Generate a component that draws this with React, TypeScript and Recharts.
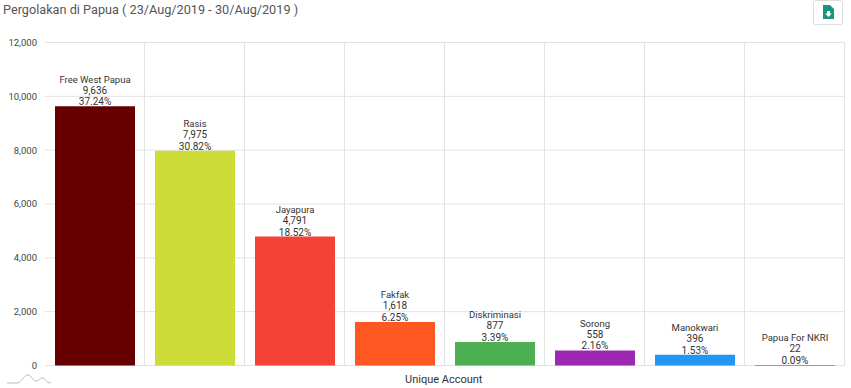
import { Bar, BarChart, CartesianGrid, Cell, LabelList, XAxis, YAxis } from 'recharts'

const categories = ['Free West Papua', 'Rasis', 'Jayapura', 'Fakfak', 'Diskriminasi', 'Sorong', 'Manokwari', 'Papua For NKRI']
const accounts = [9636, 7975, 4791, 1618, 877, 558, 396, 22]
const shares = ['37.24%', '30.82%', '18.52%', '6.25%', '3.39%', '2.16%', '1.53%', '0.09%']
const colors = ['#660000', '#cddc39', '#f44336', '#ff5722', '#4caf50', '#9c27b0', '#2196f3', '#455a64']
const yTicks = [0, 2000, 4000, 6000, 8000, 10000, 12000]

const data = categories.map((name, i) => ({ name, value: accounts[i], share: shares[i] }))

const fontFamily = 'Roboto, sans-serif'

function BarLabel(props: any) {
  const { x, y, width, index } = props
  const cx = x + width / 2
  return (
    <text textAnchor="middle" fontSize={9.5} fontFamily={fontFamily} fill="#333">
      <tspan x={cx} y={y - 23.5}>{categories[index]}</tspan>
      <tspan x={cx} y={y - 12.5} fontSize={10}>{accounts[index].toLocaleString('en-US')}</tspan>
      <tspan x={cx} y={y - 1} fontSize={10}>{shares[index]}</tspan>
    </text>
  )
}

export default function App() {
  return (
    <div style={{ position: 'absolute', left: 0, top: 0, width: 851, height: 388, overflow: 'hidden', background: '#fff', fontFamily }}>
      <div style={{ position: 'absolute', left: 3, top: 2, fontSize: 12.7, color: '#555', whiteSpace: 'nowrap' }}>
        Pergolakan di Papua ( 23/Aug/2019 - 30/Aug/2019 )
      </div>
      <div style={{ position: 'absolute', left: 813, top: 0, width: 30, height: 25, boxSizing: 'border-box', border: '1px solid #ddd', borderRadius: 3, background: '#fff' }}>
        <svg width={28} height={23} style={{ display: 'block' }}>
          <path d="M9 4 H16 L20 8 V18 H9 Z" fill="#16967f" />
          <path d="M13 10 H16 V12.5 H17.8 L14.5 16 L11.2 12.5 H13 Z" fill="#fff" />
        </svg>
      </div>
      <BarChart
        width={851}
        height={388}
        data={data}
        margin={{ top: 42.5, right: 6, bottom: 22.5, left: 0 }}
        barCategoryGap={10}
        style={{ position: 'absolute', left: 0, top: 0 }}
      >
        <CartesianGrid
          stroke="#e3e3e3"
          verticalCoordinatesGenerator={({ offset }: any) =>
            categories.map((_, i) => offset.left + ((i + 1) * offset.width) / categories.length - 0.5)
          }
        />
        <XAxis dataKey="name" tick={false} tickLine={false} axisLine={{ stroke: '#c8c8c8' }} height={0} />
        <YAxis
          width={45}
          domain={[0, 12000]}
          ticks={yTicks}
          interval={0}
          tickLine={false}
          axisLine={false}
          tickMargin={2}
          tick={{ fontSize: 9.5, fontFamily, fill: '#444' }}
          tickFormatter={(v: number) => v.toLocaleString('en-US')}
        />
        <Bar dataKey="value" isAnimationActive={false}>
          {data.map((d, i) => (
            <Cell key={d.name} fill={colors[i]} />
          ))}
          <LabelList dataKey="value" content={<BarLabel />} />
        </Bar>
      </BarChart>
      <div style={{ position: 'absolute', left: 405, top: 373, fontSize: 11, color: '#333', whiteSpace: 'nowrap' }}>
        Unique Account
      </div>
      <svg width={50} height={20} style={{ position: 'absolute', left: 5, top: 369 }}>
        <path d="M2 14 H12 C17 14 18 6 23 6 C27 6 27 12 31 12 C34 12 35 8 38 9 C41 10 41 14 46 14" fill="none" stroke="#bbb" strokeWidth={1} />
      </svg>
    </div>
  )
}
